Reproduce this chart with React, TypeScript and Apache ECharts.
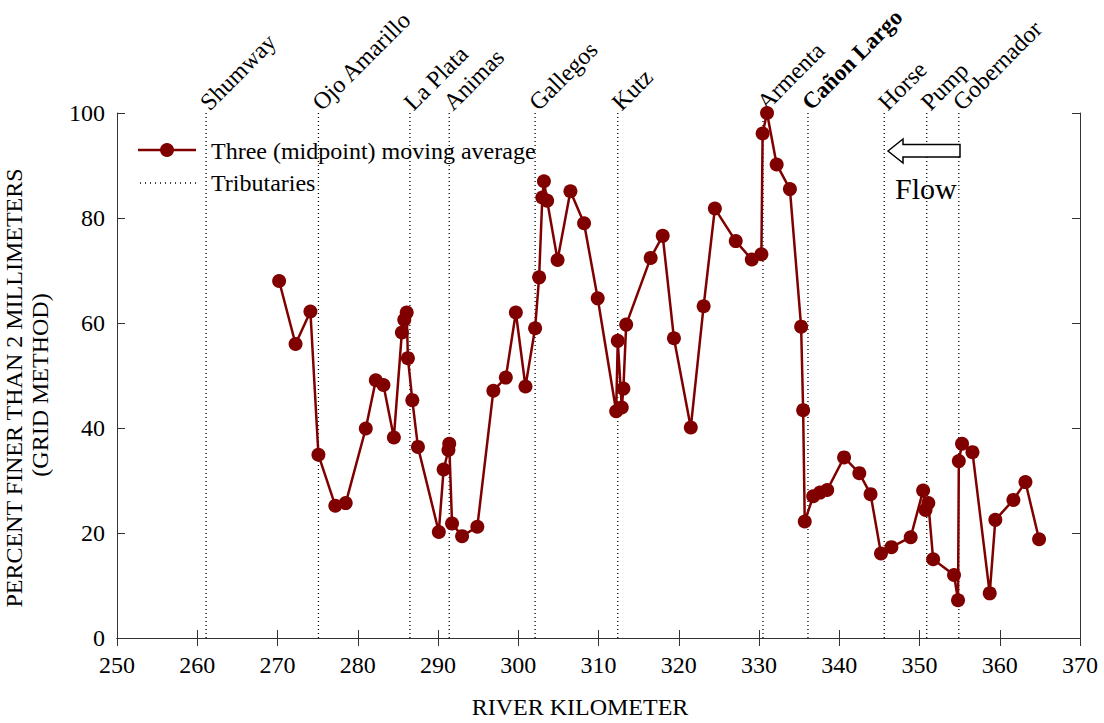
import React, { useEffect, useRef } from "react";
import * as echarts from "echarts";

// River kilometer of each sample (three-point midpoint moving average)
const riverKm = [
  270.2, 272.25, 274.1, 275.1, 277.2, 278.5, 281.0, 282.25, 283.2, 284.5,
  285.5, 285.8, 286.1, 286.25, 286.8, 287.5, 290.1, 290.7, 291.3, 291.4,
  291.75, 293.0, 294.9, 296.9, 298.45, 299.7, 300.9, 302.1, 302.6, 303.0,
  303.2, 303.6, 304.9, 306.5, 308.2, 309.9, 312.2, 312.4, 312.9, 313.1,
  313.45, 316.5, 318.0, 319.4, 321.5, 323.1, 324.5, 327.1, 329.1, 330.3,
  330.45, 331.0, 332.2, 333.85, 335.25, 335.5, 335.7, 336.75, 337.6, 338.5,
  340.6, 342.5, 343.9, 345.2, 346.5, 348.9, 350.45, 350.75, 351.1, 351.7,
  354.3, 354.8, 354.9, 355.3, 356.6, 358.75, 359.45, 361.7, 363.2, 364.9,
];

// Percent finer than 2 mm
const percentFiner = [
  68.0, 56.0, 62.2, 34.9, 25.2, 25.7, 39.9, 49.1, 48.2, 38.2,
  58.2, 60.6, 62.0, 53.3, 45.3, 36.4, 20.2, 32.1, 35.8, 37.0,
  21.8, 19.4, 21.2, 47.1, 49.6, 62.0, 47.9, 59.0, 68.7, 83.9,
  87.0, 83.3, 72.0, 85.1, 79.0, 64.7, 43.2, 56.6, 43.9, 47.5,
  59.7, 72.4, 76.6, 57.1, 40.1, 63.2, 81.8, 75.6, 72.1, 73.1,
  96.1, 100.0, 90.2, 85.5, 59.3, 43.4, 22.2, 27.0, 27.7, 28.2,
  34.4, 31.4, 27.4, 16.1, 17.3, 19.2, 28.1, 24.4, 25.7, 15.0,
  12.0, 7.2, 33.7, 37.0, 35.4, 8.5, 22.5, 26.3, 29.7, 18.8,
];

// Tributaries
const tributaryKm = [261.1, 275.1, 286.5, 291.4, 302.1, 312.4, 330.5, 336.1, 345.6, 350.9, 354.9];
const tributaryNames = [
  "Shumway", "Ojo Amarillo", "La Plata", "Animas", "Gallegos", "Kutz",
  "Armenta", "Cañon Largo", "Horse", "Pump", "Gobernador",
];
const tributaryBold = [false, false, false, false, false, false, false, true, false, false, false];

const xTicks = { min: 250, max: 370, interval: 10 };
const yTicks = { min: 0, max: 100, interval: 20 };

const FONT = "Liberation Serif";
const RED = "#800000";
const FRAME = "#333";

export default function App() {
  const ref = useRef<HTMLDivElement>(null);

  useEffect(() => {
    if (!ref.current) return;
    const chart = echarts.init(ref.current, null, { renderer: "svg" });

    const axisCommon = {
      type: "value",
      splitLine: { show: false },
      axisLine: { show: true, lineStyle: { color: FRAME, width: 1 } },
      axisTick: { show: true, inside: true, length: 8, lineStyle: { color: FRAME, width: 1 } },
    };

    const textStyle = (size: number, bold = false) => ({
      fill: "#000",
      fontFamily: FONT,
      fontSize: size,
      fontWeight: bold ? "bold" : "normal",
      font: `${bold ? "bold " : ""}${size}px "${FONT}"`,
    });

    const option = {
      animation: false,
      backgroundColor: "#fff",
      textStyle: { fontFamily: FONT },
      grid: { left: 117, right: 24, top: 113, bottom: 85 },
      xAxis: [
        {
          ...axisCommon,
          position: "bottom",
          ...xTicks,
          axisLabel: { color: "#000", fontFamily: "Liberation Serif, serif", fontSize: 24, margin: 15 },
        },
        {
          ...axisCommon,
          position: "top",
          ...xTicks,
          axisLabel: { show: false },
        },
      ],
      yAxis: [
        {
          ...axisCommon,
          position: "left",
          ...yTicks,
          axisLabel: { color: "#000", fontFamily: "Liberation Serif, serif", fontSize: 24, margin: 12 },
        },
        {
          ...axisCommon,
          position: "right",
          ...yTicks,
          axisLabel: { show: false },
        },
      ],
      series: [
        {
          type: "custom",
          name: "Tributaries",
          xAxisIndex: 0,
          yAxisIndex: 0,
          clip: false,
          z: 1,
          data: tributaryKm.map((k, i) => [k, i]),
          renderItem: (params: any, api: any) => {
            const k = api.value(0);
            const i = params.dataIndex;
            const top = api.coord([k, yTicks.max]);
            const bottom = api.coord([k, yTicks.min]);
            return {
              type: "group",
              children: [
                {
                  type: "line",
                  shape: { x1: top[0], y1: top[1], x2: bottom[0], y2: bottom[1] },
                  style: { stroke: "#000", lineWidth: 1.3, lineDash: [1, 3] },
                },
                {
                  type: "text",
                  x: top[0] - 2,
                  y: top[1] - 7,
                  rotation: Math.PI / 4,
                  style: {
                    text: tributaryNames[i],
                    ...textStyle(tributaryBold[i] ? 23 : 24, tributaryBold[i]),
                    align: "left",
                    verticalAlign: "middle",
                    textAlign: "left",
                    textVerticalAlign: "middle",
                  },
                },
              ],
            };
          },
        },
        {
          type: "line",
          name: "Three (midpoint) moving average",
          xAxisIndex: 0,
          yAxisIndex: 0,
          clip: false,
          z: 3,
          data: riverKm.map((k, i) => [k, percentFiner[i]]),
          symbol: "circle",
          symbolSize: 14,
          itemStyle: { color: RED },
          lineStyle: { color: RED, width: 2.5 },
        },
      ],
      graphic: [
        // legend
        {
          type: "line",
          shape: { x1: 138, y1: 150, x2: 196, y2: 150 },
          style: { stroke: RED, lineWidth: 2.5 },
        },
        { type: "circle", shape: { cx: 167, cy: 150, r: 7 }, style: { fill: RED } },
        {
          type: "text",
          x: 211,
          y: 151,
          style: {
            text: "Three (midpoint) moving average",
            ...textStyle(24),
            textAlign: "left",
            textVerticalAlign: "middle",
          },
        },
        {
          type: "line",
          shape: { x1: 140, y1: 183, x2: 196, y2: 183 },
          style: { stroke: "#000", lineWidth: 1.3, lineDash: [1, 4] },
        },
        {
          type: "text",
          x: 211,
          y: 183,
          style: {
            text: "Tributaries",
            ...textStyle(24),
            textAlign: "left",
            textVerticalAlign: "middle",
          },
        },
        // flow arrow
        {
          type: "polygon",
          shape: {
            points: [
              [888, 151], [903, 139], [903, 144.5], [960, 144.5],
              [960, 157], [903, 157], [903, 163],
            ],
          },
          style: { fill: "#fff", stroke: "#000", lineWidth: 1.5 },
          z: 10,
        },
        {
          type: "text",
          x: 895,
          y: 188,
          z: 10,
          style: {
            text: "Flow",
            ...textStyle(30),
            textAlign: "left",
            textVerticalAlign: "middle",
          },
        },
        // axis titles
        {
          type: "text",
          x: 580,
          y: 707,
          style: {
            text: "RIVER KILOMETER",
            ...textStyle(24),
            textAlign: "center",
            textVerticalAlign: "middle",
          },
        },
        {
          type: "text",
          x: 14,
          y: 388,
          rotation: Math.PI / 2,
          style: {
            text: "PERCENT FINER THAN 2 MILLIMETERS",
            ...textStyle(24),
            textAlign: "center",
            textVerticalAlign: "middle",
          },
        },
        {
          type: "text",
          x: 40,
          y: 385,
          rotation: Math.PI / 2,
          style: {
            text: "(GRID METHOD)",
            ...textStyle(24),
            textAlign: "center",
            textVerticalAlign: "middle",
          },
        },
      ],
    };

    chart.setOption(option as any);
    return () => chart.dispose();
  }, []);

  return (
    <div
      ref={ref}
      style={{ position: "absolute", left: 0, top: 0, width: 1104, height: 723, background: "#fff" }}
    />
  );
}
